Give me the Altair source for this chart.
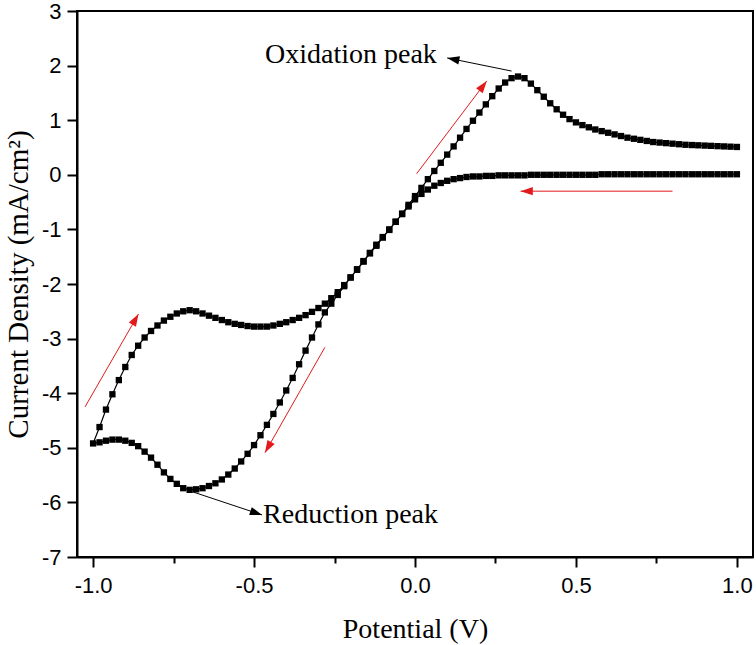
import math

import altair as alt
import pandas as pd

# Potential sweep (V), cathodic direction 1.0 -> -1.0
SWEEP = [
    1.00, 0.98, 0.96, 0.94, 0.92, 0.90, 0.88, 0.86, 0.84, 0.82,
    0.80, 0.78, 0.76, 0.74, 0.72, 0.70, 0.68, 0.66, 0.64, 0.62,
    0.60, 0.58, 0.56, 0.54, 0.52, 0.50, 0.48, 0.46, 0.44, 0.42,
    0.40, 0.38, 0.36, 0.34, 0.32, 0.30, 0.28, 0.26, 0.24, 0.22,
    0.20, 0.18, 0.16, 0.14, 0.12, 0.10, 0.08, 0.06, 0.04, 0.02,
    0.00, -0.02, -0.04, -0.06, -0.08, -0.10, -0.12, -0.14, -0.16, -0.18,
    -0.20, -0.22, -0.24, -0.26, -0.28, -0.30, -0.32, -0.34, -0.36, -0.38,
    -0.40, -0.42, -0.44, -0.46, -0.48, -0.50, -0.52, -0.54, -0.56, -0.58,
    -0.60, -0.62, -0.64, -0.66, -0.68, -0.70, -0.72, -0.74, -0.76, -0.78,
    -0.80, -0.82, -0.84, -0.86, -0.88, -0.90, -0.92, -0.94, -0.96, -0.98,
    -1.00,
]

# Current density (mA/cm2) on the cathodic sweep, one value per SWEEP entry
J_CATHODIC = [
    0.01, 0.01, 0.01, 0.01, 0.01, 0.01, 0.01, 0.01, 0.01, 0.01,
    0.01, 0.01, 0.01, 0.01, 0.01, 0.01, 0.01, 0.01, 0.01, 0.01,
    0.01, 0.01, 0.00, 0.00, 0.00, 0.00, 0.00, 0.00, 0.00, 0.00,
    0.00, 0.00, 0.00, -0.01, -0.01, -0.01, -0.01, -0.01, -0.02, -0.02,
    -0.03, -0.03, -0.04, -0.06, -0.08, -0.11, -0.15, -0.20, -0.27, -0.35,
    -0.45, -0.58, -0.72, -0.86, -1.00, -1.14, -1.28, -1.43, -1.58, -1.73,
    -1.88, -2.04, -2.20, -2.36, -2.52, -2.74, -2.98, -3.22, -3.47, -3.72,
    -3.95, -4.17, -4.38, -4.58, -4.77, -4.95, -5.11, -5.25, -5.38, -5.49,
    -5.58, -5.65, -5.70, -5.74, -5.76, -5.77, -5.74, -5.66, -5.57, -5.45,
    -5.31, -5.18, -5.07, -4.97, -4.91, -4.87, -4.85, -4.85, -4.87, -4.90,
    -4.92,
]

# Current density on the anodic sweep, potentials -0.98 -> 1.00
J_ANODIC = [
    -4.62, -4.30, -4.02, -3.76, -3.52, -3.30, -3.13, -2.98, -2.86, -2.76,
    -2.67, -2.60, -2.54, -2.50, -2.48, -2.50, -2.54, -2.58, -2.62, -2.66,
    -2.70, -2.73, -2.75, -2.77, -2.78, -2.78, -2.78, -2.76, -2.73, -2.70,
    -2.66, -2.62, -2.57, -2.51, -2.44, -2.36, -2.26, -2.15, -2.02, -1.88,
    -1.74, -1.59, -1.44, -1.30, -1.15, -1.01, -0.86, -0.71, -0.55, -0.39,
    -0.24, -0.08, 0.07, 0.22, 0.37, 0.52, 0.68, 0.84, 0.99, 1.14,
    1.29, 1.44, 1.58, 1.69, 1.77, 1.80, 1.77, 1.67, 1.55, 1.43,
    1.31, 1.20, 1.10, 1.02, 0.96, 0.91, 0.87, 0.83, 0.80, 0.77,
    0.74, 0.71, 0.68, 0.66, 0.64, 0.62, 0.60, 0.59, 0.58, 0.57,
    0.56, 0.55, 0.545, 0.54, 0.535, 0.53, 0.525, 0.52, 0.515, 0.51,
]

X_TICKS = [-1.0, -0.75, -0.5, -0.25, 0.0, 0.25, 0.5, 0.75, 1.0]
Y_TICKS = [-7, -6.5, -6, -5.5, -5, -4.5, -4, -3.5, -3, -2.5, -2, -1.5,
           -1, -0.5, 0, 0.5, 1, 1.5, 2, 2.5, 3]

# Direction arrows: tail (E, J) -> head (E2, J2)
ARROW_E = [-1.025, -0.28, 0.005, 0.80, 0.30, -0.689]
ARROW_J = [-4.25, -3.16, 0.02, -0.30, 1.90, -5.81]
ARROW_E2 = [-0.859, -0.466, 0.223, 0.328, 0.10, -0.475]
ARROW_J2 = [-2.55, -5.09, 1.72, -0.30, 2.14, -6.23]
ARROW_COLOR = ["#e31a1c", "#e31a1c", "#e31a1c", "#e31a1c", "black", "black"]

LABELS = ["Oxidation peak", "Reduction peak"]
LABEL_E = [-0.466, -0.472]
LABEL_J = [2.05, -6.38]

X_DOMAIN = [-1.05, 1.05]
Y_DOMAIN = [-7, 3]
W, H = 676, 546

assert len(SWEEP) == len(J_CATHODIC)
assert len(SWEEP) - 1 == len(J_ANODIC)

rows = [{"E": e, "J": j, "idx": k} for k, (e, j) in enumerate(zip(SWEEP, J_CATHODIC))]
n0 = len(rows)
rows += [{"E": e, "J": j, "idx": n0 + k}
         for k, (e, j) in enumerate(zip(SWEEP[::-1][1:], J_ANODIC))]
cv = pd.DataFrame(rows)

# rotation of the arrowheads in screen space
px_per_e = W / (X_DOMAIN[1] - X_DOMAIN[0])
px_per_j = H / (Y_DOMAIN[1] - Y_DOMAIN[0])
angles = []
for e, j, e2, j2 in zip(ARROW_E, ARROW_J, ARROW_E2, ARROW_J2):
    dx = (e2 - e) * px_per_e
    dy = -(j2 - j) * px_per_j
    angles.append(math.degrees(math.atan2(dx, -dy)) % 360)
arrows = pd.DataFrame({"E": ARROW_E, "J": ARROW_J, "E2": ARROW_E2, "J2": ARROW_J2,
                       "color": ARROW_COLOR, "angle": angles})
labels = pd.DataFrame({"E": LABEL_E, "J": LABEL_J, "text": LABELS})

x_scale = alt.Scale(domain=X_DOMAIN, nice=False, zero=False)
y_scale = alt.Scale(domain=Y_DOMAIN, nice=False, zero=False)

x_major = "abs(datum.value * 2 - round(datum.value * 2)) < 0.001"
y_major = "abs(datum.value - round(datum.value)) < 0.001"

x_axis = alt.Axis(
    values=X_TICKS, title="Potential (V)", grid=False,
    labelExpr=f"{x_major} ? replace(format(datum.value, '.1f'), '\u2212', '-') : ''",
    tickSize={"condition": {"test": x_major, "value": 10}, "value": 6},
    tickWidth=2, tickColor="black", domainWidth=2, domainColor="black",
    labelFont="Liberation Sans", labelFontSize=22, labelColor="black",
    labelPadding=8, labelFlush=False, labelOverlap=False,
    titleFont="Liberation Serif", titleFontSize=28, titleFontWeight="normal",
    titleColor="black", titleX=338, titleY=80, titleBaseline="alphabetic",
)
y_axis = alt.Axis(
    values=Y_TICKS, title="Current Density (mA/cm\u00b2)", grid=False,
    labelExpr=f"{y_major} ? replace(format(datum.value, 'd'), '\u2212', '-') : ''",
    tickSize={"condition": {"test": y_major, "value": 10}, "value": 6},
    tickWidth=2, tickColor="black", domainWidth=2, domainColor="black",
    labelFont="Liberation Sans", labelFontSize=22, labelColor="black",
    labelPadding=6, labelFlush=False, labelOverlap=False,
    titleFont="Liberation Serif", titleFontSize=29, titleFontWeight="normal",
    titleColor="black", titleAngle=270, titleX=-50, titleY=273,
    titleBaseline="alphabetic", titleAlign="center",
)

base = alt.Chart(cv).encode(
    x=alt.X("E:Q", scale=x_scale, axis=x_axis),
    y=alt.Y("J:Q", scale=y_scale, axis=y_axis),
    order=alt.Order("idx:Q"),
)
curve = base.mark_line(color="black", strokeWidth=1.2)
markers = base.mark_point(shape="square", filled=True, color="black", size=40, opacity=1)

shafts = alt.Chart(arrows).mark_rule(strokeWidth=1).encode(
    x="E:Q", y="J:Q", x2="E2:Q", y2="J2:Q",
    color=alt.Color("color:N", scale=None),
)
heads = alt.Chart(arrows).mark_point(
    shape="M0,0L-0.34,1L0.34,1Z", filled=True, size=600, opacity=1,
).encode(
    x="E2:Q", y="J2:Q",
    angle=alt.Angle("angle:Q", scale=None),
    color=alt.Color("color:N", scale=None),
)
texts = alt.Chart(labels).mark_text(
    font="Liberation Serif", fontSize=28, align="left", baseline="alphabetic", color="black",
).encode(x="E:Q", y="J:Q", text="text:N")

chart = alt.layer(curve, markers, shafts, heads, texts).properties(
    width=W, height=H,
    autosize=alt.AutoSizeParams(type="none"),
    padding={"left": 77, "top": 11, "right": 3, "bottom": 88},
    background="white",
).configure_view(stroke="black", strokeWidth=2)

chart.save("out.html", embed_options={"renderer": "svg", "actions": False})
